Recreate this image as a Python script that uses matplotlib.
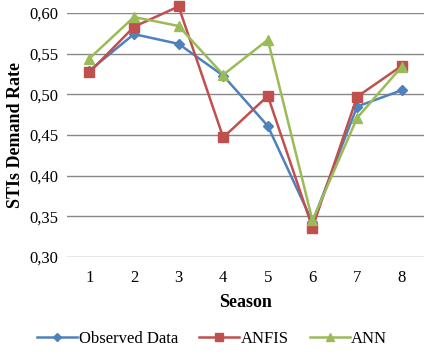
import matplotlib.pyplot as plt
from matplotlib.ticker import FuncFormatter

plt.rcParams['font.family'] = ['Liberation Serif', 'DejaVu Serif']

# Data
seasons = [1, 2, 3, 4, 5, 6, 7, 8]
observed = [0.529, 0.574, 0.562, 0.523, 0.461, 0.343, 0.485, 0.505]
anfis = [0.527, 0.583, 0.608, 0.447, 0.498, 0.336, 0.497, 0.535]
ann = [0.544, 0.595, 0.584, 0.524, 0.567, 0.345, 0.471, 0.534]

fig = plt.figure(figsize=(4.27, 3.6), dpi=100)
ax = fig.add_axes([0.157, 0.286, 0.836, 0.678])

ax.plot(seasons, observed, color='#4F81BD', marker='D', markersize=5.5, lw=1.8,
        label='Observed Data', clip_on=False, zorder=3)
ax.plot(seasons, anfis, color='#C0504D', marker='s', markersize=7, lw=1.8,
        label='ANFIS', clip_on=False, zorder=3)
ax.plot(seasons, ann, color='#9BBB59', marker='^', markersize=7.5, lw=1.8,
        label='ANN', clip_on=False, zorder=3)

ax.set_xlim(0.5, 8.5)
ax.set_ylim(0.30, 0.60)
ax.set_yticks([0.30, 0.35, 0.40, 0.45, 0.50, 0.55, 0.60])
ax.yaxis.set_major_formatter(FuncFormatter(lambda v, p: f'{v:.2f}'.replace('.', ',')))
ax.set_xticks(seasons)
ax.grid(axis='y', color='#878787', lw=1)
ax.set_axisbelow(True)
for s in ax.spines.values():
    s.set_visible(False)
ax.tick_params(length=0, labelsize=12, pad=9)
ax.tick_params(axis='y', pad=6)

ax.set_xlabel('Season', fontsize=13, fontweight='bold', labelpad=6)
ax.set_ylabel('STIs Demand Rate', fontsize=13, fontweight='bold', labelpad=4)

fig.legend(loc='lower center', bbox_to_anchor=(0.497, -0.005), ncol=3, frameon=False,
           fontsize=12, handlelength=2.4, columnspacing=1.25, handletextpad=0.1,
           markerscale=0.75)

fig.savefig('out.png', dpi=100)
